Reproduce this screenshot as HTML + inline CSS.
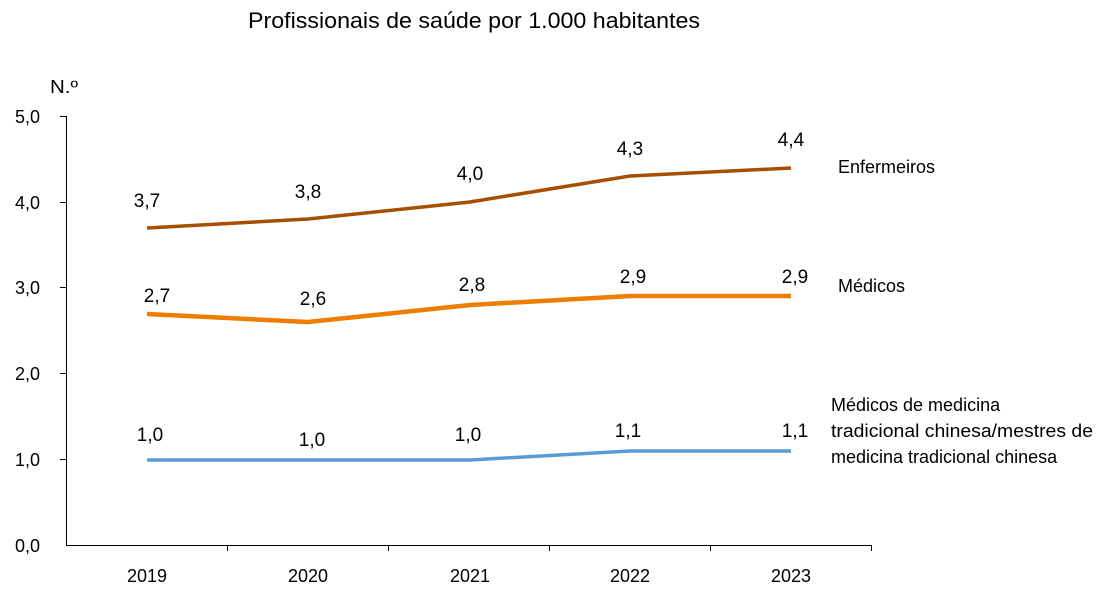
<!DOCTYPE html>
<html><head><meta charset="utf-8"><style>
html,body{margin:0;padding:0;background:#fff;}
svg{display:block;font-family:"Liberation Sans",sans-serif;}
text{fill:#000;}
</style></head><body>
<svg width="1103" height="592" viewBox="0 0 1103 592">
<text x="474" y="28" font-size="22" text-anchor="middle" textLength="452" lengthAdjust="spacingAndGlyphs">Profissionais de saúde por 1.000 habitantes</text>
<text x="50" y="93" font-size="18" textLength="28" lengthAdjust="spacingAndGlyphs">N.º</text>
<g stroke="#000" stroke-width="1" fill="none">
<line x1="66.5" y1="116" x2="66.5" y2="545"/>
<line x1="66" y1="545.5" x2="872" y2="545.5"/>
<line x1="60" y1="116.5" x2="66" y2="116.5"/>
<line x1="60" y1="202.5" x2="66" y2="202.5"/>
<line x1="60" y1="287.5" x2="66" y2="287.5"/>
<line x1="60" y1="373.5" x2="66" y2="373.5"/>
<line x1="60" y1="459.5" x2="66" y2="459.5"/>
<line x1="227.5" y1="545" x2="227.5" y2="551"/>
<line x1="388.5" y1="545" x2="388.5" y2="551"/>
<line x1="549.5" y1="545" x2="549.5" y2="551"/>
<line x1="710.5" y1="545" x2="710.5" y2="551"/>
<line x1="871.5" y1="545" x2="871.5" y2="551"/>
</g>
<g font-size="18" text-anchor="end">
<text x="40" y="123">5,0</text><text x="40" y="209">4,0</text><text x="40" y="294">3,0</text>
<text x="40" y="380">2,0</text><text x="40" y="466">1,0</text><text x="40" y="552">0,0</text>
</g>
<g font-size="18" text-anchor="middle">
<text x="147" y="582">2019</text><text x="308" y="582">2020</text><text x="470" y="582">2021</text>
<text x="630" y="582">2022</text><text x="791" y="582">2023</text>
</g>
<polyline points="147,228 308,219 470,202 630,176 791,168" fill="none" stroke="#A64F00" stroke-width="3.5"/>
<polyline points="147,314 308,322 470,305 630,296 791,296" fill="none" stroke="#EE7D00" stroke-width="4.5"/>
<polyline points="147,460 308,460 470,460 630,451 791,451" fill="none" stroke="#5B9BD5" stroke-width="3.5"/>
<g font-size="19" text-anchor="middle">
<text x="147" y="207">3,7</text><text x="308" y="198">3,8</text><text x="470" y="180">4,0</text>
<text x="630" y="155">4,3</text><text x="791" y="146">4,4</text>
<text x="157" y="302">2,7</text><text x="313" y="305">2,6</text><text x="472" y="291">2,8</text>
<text x="633" y="283">2,9</text><text x="795" y="283">2,9</text>
<text x="150" y="441">1,0</text><text x="312" y="446">1,0</text><text x="468" y="441">1,0</text>
<text x="628" y="437">1,1</text><text x="795" y="437">1,1</text>
</g>
<g font-size="18">
<text x="838" y="173">Enfermeiros</text>
<text x="838" y="292">Médicos</text>
<text x="831" y="411">Médicos de medicina</text>
<text x="831" y="437" textLength="262" lengthAdjust="spacingAndGlyphs">tradicional chinesa/mestres de</text>
<text x="831" y="463">medicina tradicional chinesa</text>
</g>
</svg>
</body></html>
